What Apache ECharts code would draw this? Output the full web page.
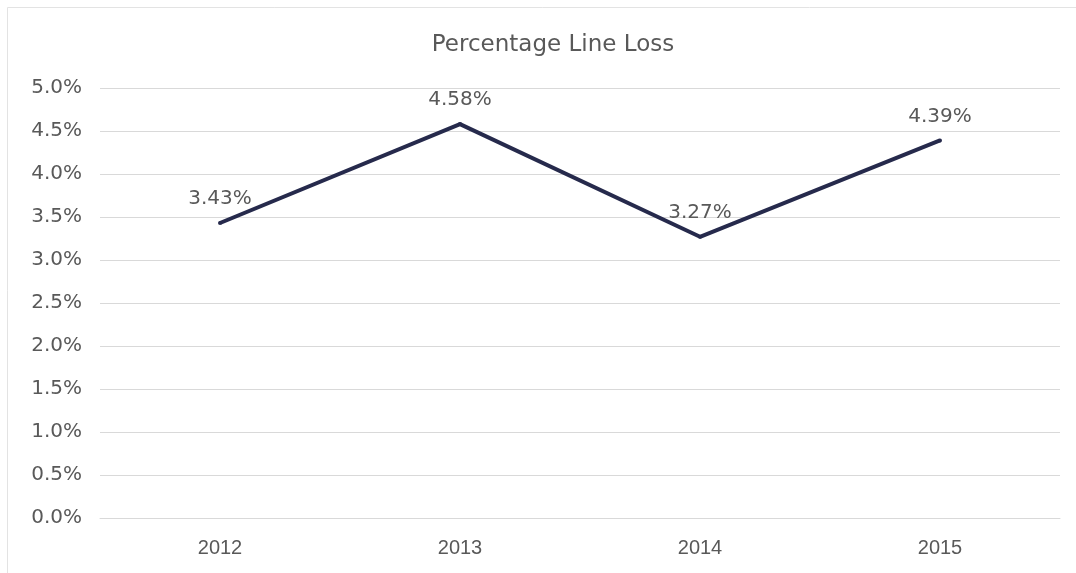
<!DOCTYPE html>
<html>
<head>
<meta charset="utf-8">
<script src="https://cdn.jsdelivr.net/npm/echarts@6/dist/echarts.min.js"></script>
<style>
html,body{margin:0;padding:0;background:#fff;}
#chart{width:1076px;height:573px;}
</style>
</head>
<body>
<div id="chart"></div>
<script>
const titleText = 'Percentage Line Loss';
const years = ['2012', '2013', '2014', '2015'];
const lineLoss = [3.43, 4.58, 3.27, 4.39];
const yMin = 0;
const yMax = 5;
const yStep = 0.5;

const chart = echarts.init(document.getElementById('chart'), null, {renderer: 'canvas'});
chart.setOption({
  backgroundColor: '#ffffff',
  animation: false,
  graphic: [{
    type: 'rect',
    shape: {x: 7.5, y: 7.5, width: 1100, height: 600},
    style: {fill: 'none', stroke: '#e3e3e3', lineWidth: 1},
    silent: true
  }],
  title: {
    text: titleText,
    left: 548,
    top: 29,
    textAlign: 'center',
    textStyle: {fontFamily: 'DejaVu Sans', fontSize: 23, fontWeight: 'normal', color: '#595959'}
  },
  grid: {left: 100, right: 16, top: 88, bottom: 55, containLabel: false},
  xAxis: {
    type: 'category',
    data: years,
    boundaryGap: true,
    axisLine: {show: true, lineStyle: {color: '#d9d9d9', width: 1}},
    axisTick: {show: false},
    axisLabel: {fontFamily: 'Liberation Sans Narrow, Liberation Sans, sans-serif', fontSize: 20, color: '#595959', margin: 20}
  },
  yAxis: {
    type: 'value',
    min: yMin,
    max: yMax,
    interval: yStep,
    axisLine: {show: false},
    axisTick: {show: false},
    splitLine: {lineStyle: {color: '#d9d9d9', width: 1}},
    axisLabel: {
      fontFamily: 'DejaVu Sans', fontSize: 20, color: '#595959', margin: 18,
      formatter: v => v.toFixed(1) + '%'
    }
  },
  series: [{
    type: 'line',
    data: lineLoss,
    showSymbol: true,
    symbol: 'circle',
    symbolSize: 4,
    itemStyle: {color: '#262a4c'},
    lineStyle: {color: '#262a4c', width: 4},
    label: {
      show: true,
      position: 'top',
      distance: 12,
      fontFamily: 'DejaVu Sans',
      fontSize: 20,
      color: '#595959',
      formatter: p => p.value.toFixed(2) + '%'
    }
  }]
});
</script>
</body>
</html>
